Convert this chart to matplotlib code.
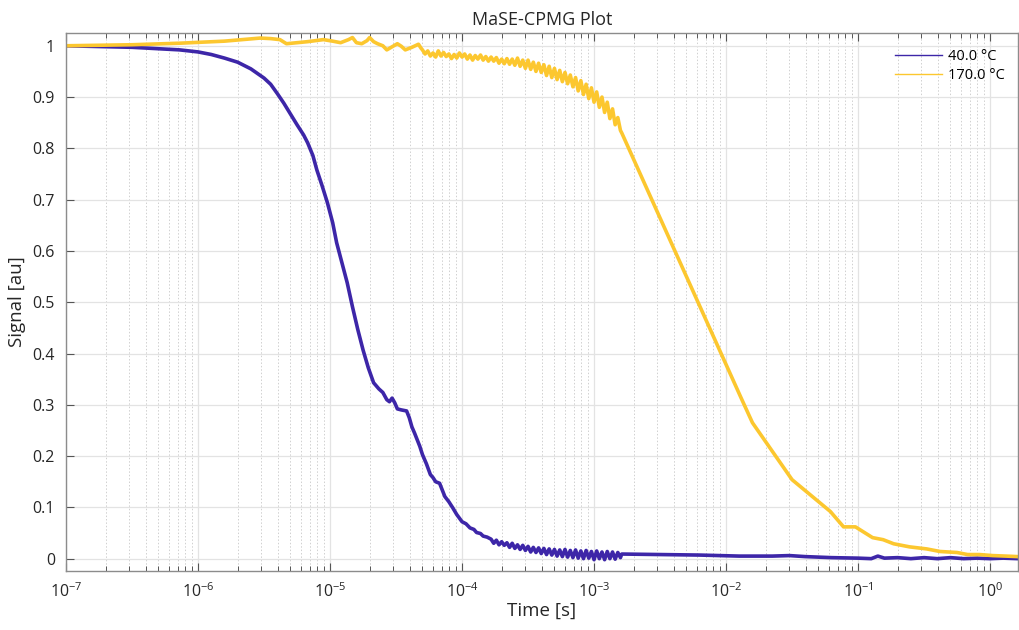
import matplotlib.pyplot as plt
import numpy as np
from matplotlib.lines import Line2D
from matplotlib.ticker import FixedLocator, NullFormatter, LogFormatterSciNotation

plt.rcParams.update({"font.family": ["Open Sans", "DejaVu Sans"],
                     "mathtext.default": "regular", "font.size": 11})

# 40.0 degC curve: log10(time) and signal
logt_40 = [-7.0, -6.5, -6.14, -6.0, -5.9, -5.8, -5.7, -5.6, -5.5, -5.45,
           -5.4, -5.35, -5.3, -5.25, -5.2, -5.17, -5.13, -5.10, -5.06, -5.02,
           -4.98, -4.95, -4.91, -4.87, -4.83, -4.79, -4.75, -4.71, -4.67, -4.63,
           -4.60, -4.57, -4.55, -4.53, -4.51, -4.49, -4.46, -4.42, -4.40, -4.38,
           -4.36, -4.34, -4.32, -4.30, -4.27, -4.24, -4.22, -4.20, -4.17, -4.15,
           -4.13, -4.10, -4.07, -4.04, -4.00, -3.97, -3.94, -3.91, -3.89, -3.86,
           -3.84, -3.81,
           -3.78, -3.76, -3.74, -3.72, -3.70, -3.68, -3.66, -3.64, -3.62, -3.60,
           -3.58, -3.56, -3.54, -3.52, -3.50, -3.48, -3.46, -3.44, -3.42, -3.40,
           -3.38, -3.36, -3.34, -3.32, -3.30, -3.28, -3.26, -3.24, -3.22, -3.20,
           -3.18, -3.16, -3.14, -3.12, -3.10, -3.08, -3.06, -3.04, -3.02, -3.00,
           -2.98, -2.96, -2.94, -2.92, -2.90, -2.88, -2.86, -2.84, -2.82, -2.80,
           -2.79,
           -2.5, -2.2, -1.9, -1.65, -1.52, -1.4, -1.2, -1.0, -0.9, -0.85,
           -0.8, -0.7, -0.6, -0.5, -0.4, -0.3, -0.2, -0.1, 0.0, 0.1, 0.21]
sig_40 = [1.0, 0.997, 0.992, 0.988, 0.983, 0.976, 0.968, 0.955, 0.937, 0.925,
          0.907, 0.888, 0.867, 0.846, 0.826, 0.811, 0.786, 0.758, 0.727, 0.694,
          0.655, 0.616, 0.577, 0.538, 0.491, 0.447, 0.407, 0.372, 0.343, 0.331,
          0.324, 0.310, 0.306, 0.313, 0.304, 0.292, 0.290, 0.288, 0.275, 0.257,
          0.245, 0.232, 0.219, 0.203, 0.185, 0.164, 0.158, 0.150, 0.147, 0.134,
          0.121, 0.111, 0.099, 0.086, 0.072, 0.068, 0.060, 0.057, 0.051, 0.049,
          0.044, 0.042,
          0.038, 0.030, 0.036, 0.027, 0.033, 0.026, 0.031, 0.022, 0.030, 0.020,
          0.027, 0.018, 0.026, 0.016, 0.024, 0.013, 0.022, 0.012, 0.021, 0.010,
          0.020, 0.008, 0.019, 0.007, 0.018, 0.005, 0.017, 0.004, 0.018, 0.003,
          0.016, 0.002, 0.017, 0.001, 0.015, 0.000, 0.016, 0.001, 0.014, -0.002,
          0.015, 0.000, 0.013, -0.002, 0.014, 0.000, 0.013, -0.001, 0.012, 0.002,
          0.009,
          0.008, 0.007, 0.005, 0.005, 0.006, 0.004, 0.002, 0.001, 0.0, 0.005,
          0.001, 0.002, 0.0, 0.002, 0.0, 0.002, 0.0, 0.001, 0.0, 0.001, 0.0]

# 170.0 degC curve
logt_170 = [-7.0, -6.5, -6.14, -5.8, -5.53, -5.45, -5.38, -5.33, -5.25, -5.17,
            -5.05, -4.98, -4.92, -4.86, -4.83, -4.80, -4.76, -4.72, -4.70, -4.67,
            -4.64, -4.60, -4.57, -4.53, -4.49, -4.46, -4.43, -4.38, -4.33, -4.31,
            -4.30, -4.28, -4.26, -4.24, -4.22, -4.20, -4.18, -4.16, -4.14, -4.12,
            -4.10, -4.08, -4.06, -4.04, -4.02, -4.00, -3.98, -3.96, -3.94, -3.92,
            -3.90, -3.88, -3.86, -3.84, -3.82, -3.80, -3.78, -3.76, -3.74, -3.72,
            -3.70, -3.68, -3.66, -3.64, -3.62, -3.60, -3.58, -3.56, -3.54, -3.52,
            -3.50, -3.48, -3.46, -3.44, -3.42, -3.40, -3.38, -3.36, -3.34, -3.32,
            -3.30, -3.28, -3.26, -3.24, -3.22, -3.20, -3.18, -3.16, -3.14, -3.12,
            -3.10, -3.08, -3.06, -3.04, -3.02, -3.00, -2.98, -2.96, -2.94, -2.92,
            -2.90, -2.88, -2.86, -2.84, -2.82, -2.80, -2.79,
            -1.88, -1.80, -1.50, -1.21, -1.11, -1.02, -0.89, -0.81, -0.73, -0.61,
            -0.48, -0.38, -0.25, -0.17, -0.08, 0.02, 0.12, 0.21]
sig_170 = [1.0, 1.002, 1.005, 1.009, 1.015, 1.014, 1.012, 1.004, 1.006, 1.008,
           1.012, 1.009, 1.006, 1.012, 1.016, 1.006, 1.004, 1.010, 1.016, 1.008,
           1.004, 1.000, 0.992, 0.998, 1.004, 0.999, 0.992, 0.997, 1.003, 0.995,
           0.992, 0.984, 0.990, 0.980, 0.986, 0.978, 0.990, 0.980, 0.987, 0.979,
           0.984, 0.975, 0.983, 0.976, 0.986, 0.978, 0.984, 0.974, 0.982, 0.972,
           0.981, 0.974, 0.982, 0.972, 0.979, 0.970, 0.978, 0.970, 0.977, 0.966,
           0.974, 0.965, 0.975, 0.964, 0.974, 0.962, 0.976, 0.960, 0.972, 0.956,
           0.972, 0.954, 0.968, 0.950, 0.966, 0.948, 0.963, 0.942, 0.960, 0.938,
           0.956, 0.934, 0.952, 0.930, 0.948, 0.926, 0.943, 0.920, 0.938, 0.912,
           0.932, 0.905, 0.925, 0.897, 0.918, 0.890, 0.910, 0.880, 0.900, 0.870,
           0.890, 0.858, 0.877, 0.846, 0.860, 0.835, 0.830,
           0.310, 0.265, 0.154, 0.092, 0.062, 0.062, 0.041, 0.037, 0.029, 0.023,
           0.019, 0.014, 0.012, 0.008, 0.008, 0.006, 0.005, 0.004]

labels = ["40.0 °C", "170.0 °C"]
colors = ["#3D26A8", "#FCC72F"]
xticks = [1e-7, 1e-6, 1e-5, 1e-4, 1e-3, 1e-2, 1e-1, 1e0]
yticks = [0, 0.1, 0.2, 0.3, 0.4, 0.5, 0.6, 0.7, 0.8, 0.9, 1]
ytick_labels = ["0", "0.1", "0.2", "0.3", "0.4", "0.5", "0.6", "0.7", "0.8", "0.9", "1"]

fig = plt.figure(figsize=(10.19, 6.30), dpi=100)
ax = fig.add_axes([0.0648, 0.0937, 0.934, 0.854])

for lt, s, c in zip([logt_40, logt_170], [sig_40, sig_170], colors):
    ax.plot(10.0 ** np.array(lt), s, color=c, lw=2.6, solid_joinstyle="round")

ax.set_xscale("log")
ax.set_xlim(1e-7, 10 ** 0.21)
ax.set_ylim(-0.024, 1.025)
ax.set_yticks(yticks)
ax.set_yticklabels(ytick_labels)
ax.xaxis.set_major_locator(FixedLocator(xticks))
ax.xaxis.set_major_formatter(LogFormatterSciNotation())
minor = [m * d for d in xticks for m in range(2, 10)]
ax.xaxis.set_minor_locator(FixedLocator(minor))
ax.xaxis.set_minor_formatter(NullFormatter())

ax.grid(True, which="major", color="#e3e3e3", lw=0.9)
ax.grid(True, which="minor", axis="x", color="#d0d0d0", lw=0.7, ls=(0, (1.5, 2)))
ax.set_axisbelow(True)

ax.tick_params(which="both", direction="in", top=True, right=False,
               colors="#262626", labelsize=11.5, pad=8)
ax.tick_params(which="major", length=6, width=0.8, color="#555555")
ax.tick_params(which="minor", length=3.5, width=0.7, color="#555555")
for side in ["left", "bottom", "top", "right"]:
    ax.spines[side].set_color("#8c8c8c")
    ax.spines[side].set_linewidth(1.0)

ax.set_xlabel("Time [s]", fontsize=13.5, color="#262626", labelpad=1)
ax.set_ylabel("Signal [au]", fontsize=13.5, color="#262626", labelpad=5)
ax.set_title("MaSE-CPMG Plot", fontsize=13, color="#262626", pad=6)

handles = [Line2D([], [], color=c, lw=1.0) for c in colors]
ax.legend(handles, labels, loc="upper right", frameon=False, fontsize=10.5,
          handlelength=3.2, handletextpad=0.4, labelspacing=0.3,
          bbox_to_anchor=(1.0, 0.995))

fig.savefig("out.png", dpi=100)
